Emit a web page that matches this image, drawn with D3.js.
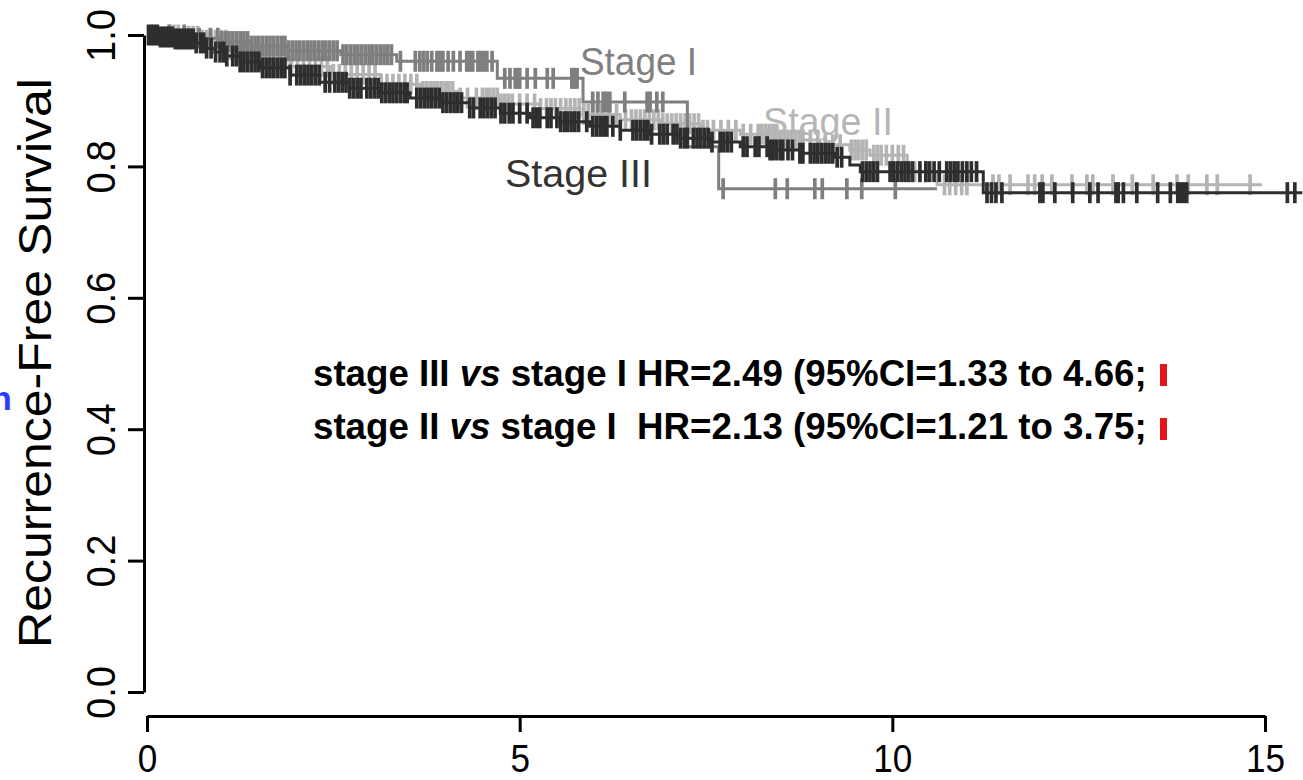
<!DOCTYPE html>
<html>
<head>
<meta charset="utf-8">
<script src="https://cdn.jsdelivr.net/npm/d3@7"></script>
<style>
  body { margin: 0; background: #fff; }
  text { font-family: "Liberation Sans", Arial, Helvetica, sans-serif; }
</style>
</head>
<body>
<div id="canvas"></div>
<script>
// Kaplan-Meier steps [years, survival]
const stage1Steps = [[0, 1], [0.55, 0.995], [1.0, 0.99], [1.4, 0.983], [1.9, 0.976], [2.6, 0.97],
  [3.35, 0.96], [4.7, 0.934], [5.85, 0.898], [7.25, 0.83], [7.67, 0.766]];
const stage1End = 10.6;
const stage1Censor = [0.3, 0.5, 0.7, 0.85, 0.95, 1.0, 1.05, 1.1, 1.15, 1.2, 1.25, 1.3, 1.35, 1.4, 1.45,
  1.5, 1.55, 1.6, 1.65, 1.7, 1.75, 1.8, 1.85, 1.9, 1.95, 2.0, 2.05, 2.1, 2.15, 2.2, 2.25, 2.3, 2.35,
  2.4, 2.45, 2.5, 2.55, 2.63, 2.68, 2.73, 2.78, 2.83, 2.88, 2.93, 2.98, 3.03, 3.08, 3.13, 3.18, 3.23,
  3.28, 3.4, 3.6, 3.66, 3.71, 3.76, 3.82, 3.89, 3.93, 3.97, 4.04, 4.11, 4.2, 4.29, 4.33, 4.37, 4.44,
  4.48, 4.52, 4.56, 4.63, 4.8, 4.87, 4.94, 4.97, 5.0, 5.1, 5.21, 5.37, 5.45, 5.7, 5.73, 5.77, 5.98,
  6.05, 6.12, 6.16, 6.21, 6.41, 6.71, 6.75, 6.84, 6.92, 7.73, 8.43, 8.59, 8.96, 9.06, 9.39, 9.59, 10.04];

const stage2Steps = [[0, 1], [0.44, 0.998], [0.71, 0.992], [1.11, 0.978], [1.52, 0.963], [1.92, 0.952],
  [2.46, 0.94], [3.13, 0.925], [3.66, 0.914], [4.2, 0.904], [4.74, 0.895], [5.27, 0.888], [5.81, 0.879],
  [6.35, 0.871], [6.88, 0.865], [7.42, 0.855], [7.96, 0.849], [8.49, 0.84], [9.03, 0.833], [9.43, 0.825],
  [9.7, 0.817], [10.2, 0.792], [10.6, 0.772]];
const stage2End = 14.96;
const stage2Censor = [0.3, 0.36, 0.42, 0.5, 0.56, 0.62, 0.68, 0.74, 0.8, 0.86, 0.92, 1.0, 1.06, 1.12,
  1.2, 1.28, 1.34, 1.4, 1.46, 1.52, 1.58, 1.64, 1.7, 1.78, 1.86, 1.94, 2.02, 2.1, 2.18, 2.26, 2.34, 2.42,
  2.5, 2.58, 2.66, 2.74, 2.82, 2.9, 2.98, 3.06, 3.14, 3.22, 3.3, 3.38, 3.46, 3.54, 3.62, 3.7, 3.75, 3.8,
  3.85, 3.9, 3.95, 4.0, 4.05, 4.1, 4.2, 4.3, 4.42, 4.5, 4.55, 4.6, 4.65, 4.7, 4.75, 4.8, 4.85, 4.9, 5.0,
  5.1, 5.2, 5.28, 5.36, 5.42, 5.48, 5.55, 5.62, 5.68, 5.74, 5.8, 5.86, 5.92, 5.98, 6.04, 6.1, 6.2, 6.3,
  6.42, 6.5, 6.56, 6.62, 6.68, 6.74, 6.8, 6.86, 6.92, 6.98, 7.04, 7.1, 7.16, 7.22, 7.28, 7.34, 7.4, 7.46,
  7.52, 7.6, 7.7, 7.8, 7.9, 8.0, 8.1, 8.2, 8.25, 8.3, 8.35, 8.4, 8.45, 8.5, 8.55, 8.6, 8.65, 8.7, 8.75,
  8.8, 8.9, 9.0, 9.1, 9.2, 9.3, 9.45, 9.5, 9.55, 9.6, 9.65, 9.75, 9.8, 9.85, 9.92, 10.0, 10.08, 10.15,
  10.3, 10.45, 10.7, 10.77, 10.85, 10.93, 11.0, 11.35, 11.43, 11.58, 11.82, 11.91, 12.01, 12.14, 12.41,
  12.61, 12.69, 12.96, 13.22, 13.5, 13.82, 13.97, 14.22, 14.36, 14.8];

const stage3Steps = [[0, 1], [0.17, 0.997], [0.38, 0.994], [0.64, 0.988], [0.78, 0.98], [0.91, 0.974],
  [1.05, 0.968], [1.25, 0.959], [1.52, 0.95], [1.92, 0.939], [2.32, 0.928], [2.72, 0.919], [3.13, 0.912],
  [3.53, 0.904], [3.93, 0.897], [4.33, 0.889], [4.74, 0.881], [5.14, 0.874], [5.54, 0.868], [5.94, 0.861],
  [6.35, 0.855], [6.75, 0.849], [7.15, 0.843], [7.55, 0.837], [7.96, 0.83], [8.36, 0.825], [8.76, 0.82],
  [9.23, 0.814], [9.43, 0.802], [9.57, 0.792], [11.22, 0.76]];
const stage3End = 15.5;
const stage3Censor = [0.02, 0.06, 0.1, 0.14, 0.18, 0.22, 0.26, 0.3, 0.34, 0.38, 0.42, 0.46, 0.5, 0.54,
  0.58, 0.62, 0.66, 0.72, 0.76, 0.8, 0.86, 0.92, 0.98, 1.03, 1.07, 1.15, 1.2, 1.25, 1.3, 1.35, 1.4, 1.45,
  1.5, 1.55, 1.6, 1.65, 1.7, 1.75, 1.8, 1.85, 1.92, 2.01, 2.06, 2.11, 2.16, 2.21, 2.26, 2.31, 2.39, 2.45,
  2.52, 2.57, 2.62, 2.67, 2.72, 2.77, 2.82, 2.87, 2.95, 3.0, 3.05, 3.1, 3.15, 3.2, 3.25, 3.3, 3.35, 3.4,
  3.45, 3.49, 3.62, 3.67, 3.72, 3.77, 3.82, 3.87, 3.92, 3.97, 4.02, 4.07, 4.12, 4.17, 4.22, 4.33, 4.38,
  4.47, 4.52, 4.57, 4.62, 4.67, 4.75, 4.8, 4.86, 4.91, 5.0, 5.1, 5.18, 5.23, 5.27, 5.37, 5.42, 5.5, 5.55,
  5.6, 5.64, 5.69, 5.74, 5.79, 5.9, 5.98, 6.03, 6.08, 6.13, 6.17, 6.25, 6.35, 6.52, 6.57, 6.62, 6.67,
  6.72, 6.77, 6.88, 6.93, 6.98, 7.06, 7.11, 7.16, 7.21, 7.25, 7.33, 7.38, 7.43, 7.48, 7.53, 7.58, 7.69,
  7.74, 7.79, 7.84, 8.0, 8.05, 8.16, 8.21, 8.32, 8.36, 8.4, 8.45, 8.5, 8.53, 8.6, 8.66, 8.76, 8.8, 8.9,
  8.95, 9.0, 9.05, 9.1, 9.15, 9.2, 9.26, 9.32, 9.6, 9.65, 9.7, 9.75, 9.8, 9.97, 10.02, 10.07, 10.12,
  10.17, 10.22, 10.27, 10.37, 10.45, 10.5, 10.56, 10.63, 10.73, 10.78, 10.83, 10.88, 10.94, 11.0, 11.06,
  11.13, 11.27, 11.33, 11.39, 11.47, 11.98, 12.02, 12.18, 12.42, 12.65, 12.76, 13.0, 13.03, 13.1, 13.28,
  13.56, 13.73, 13.83, 13.87, 13.91, 13.95, 15.3, 15.4];

const xTicks = [0, 5, 10, 15];
const yTicks = [0, 0.2, 0.4, 0.6, 0.8, 1.0];
const stageLabels = ["Stage I", "Stage II", "Stage III"];
const hrLine1 = ["stage III ", "vs", " stage I HR=2.49 (95%CI=1.33 to 4.66;"];
const hrLine2 = ["stage II ", "vs", " stage I  HR=2.13 (95%CI=1.21 to 3.75;"];

const width = 1303;
const height = 780;

const svg = d3.select("#canvas").append("svg").attr("width", width).attr("height", height);

const x = d3.scaleLinear().domain([0, 15]).range([147, 1265]);
const y = d3.scaleLinear().domain([0, 1]).range([692, 35]);

// squeeze a text horizontally so it covers the given length
function fit(sel, len, tx, ty, rot) {
  const w = sel.node().getComputedTextLength();
  sel.attr("transform", `translate(${tx},${ty}) rotate(${rot || 0}) scale(${len / w},1)`);
}

const stepLine = d3.line().x((d) => x(d[0])).y((d) => y(d[1])).curve(d3.curveStepAfter);
const bis = d3.bisector((d) => d[0]).right;

function drawStage(steps, end, censor, color) {
  const pts = steps.concat([[end, steps[steps.length - 1][1]]]);
  const g = svg.append("g");
  g.append("path")
    .attr("d", stepLine(pts))
    .attr("fill", "none")
    .attr("stroke", color)
    .attr("stroke-width", 3);
  g.selectAll("line")
    .data(censor)
    .enter()
    .append("line")
    .attr("x1", (d) => x(d))
    .attr("x2", (d) => x(d))
    .attr("y1", (d) => y(steps[bis(steps, d) - 1][1]) - 10.5)
    .attr("y2", (d) => y(steps[bis(steps, d) - 1][1]) + 10.5)
    .attr("stroke", color)
    .attr("stroke-width", 3.7);
}

drawStage(stage2Steps, stage2End, stage2Censor, "#b4b4b4");
drawStage(stage1Steps, stage1End, stage1Censor, "#7f7f7f");
drawStage(stage3Steps, stage3End, stage3Censor, "#2e2e2e");

// axes, R style
const xAxis = svg.append("g")
  .attr("transform", "translate(0,716)")
  .call(d3.axisBottom(x).tickValues(xTicks).tickSize(16).tickSizeOuter(0).tickFormat(d3.format("d")));
const yAxis = svg.append("g")
  .attr("transform", "translate(144,0)")
  .call(d3.axisLeft(y).tickValues(yTicks).tickSize(16).tickSizeOuter(0).tickFormat(d3.format(".1f")));

svg.selectAll(".domain, .tick line").attr("stroke", "#000").attr("stroke-width", 3);
svg.selectAll(".tick text").attr("fill", "#000").attr("font-family", null);

xAxis.selectAll(".tick text")
  .attr("font-size", 39)
  .attr("y", 0)
  .attr("dy", null)
  .attr("text-anchor", "middle")
  .each(function () {
    fit(d3.select(this), this.getComputedTextLength() * 0.9, 0, 56);
  });

yAxis.selectAll(".tick text")
  .attr("font-size", 41)
  .attr("x", 0)
  .attr("dy", null)
  .attr("text-anchor", "middle")
  .each(function () {
    fit(d3.select(this), 53, -29, 0, -90);
  });

const yLab = svg.append("text")
  .attr("text-anchor", "middle")
  .attr("font-size", 46)
  .text("Recurrence-Free Survival");
fit(yLab, 570, 51, 363, -90);

// curve labels
const labelPos = [
  { x: 580, y: 75, len: 117, color: "#808080" },
  { x: 763, y: 135, len: 130, color: "#b6b6b6" },
  { x: 505, y: 187, len: 147, color: "#333333" },
];
stageLabels.forEach((s, i) => {
  const t = svg.append("text").attr("font-size", 38).attr("fill", labelPos[i].color).text(s);
  fit(t, labelPos[i].len, labelPos[i].x, labelPos[i].y);
});

// hazard ratio notes
[hrLine1, hrLine2].forEach((parts, i) => {
  const t = svg.append("text")
    .attr("font-size", 37)
    .attr("font-weight", "bold")
    .style("white-space", "pre");
  parts.forEach((p, j) => {
    t.append("tspan").attr("font-style", j === 1 ? "italic" : "normal").text(p);
  });
  fit(t, 834, 313, i === 0 ? 386 : 439);
  svg.append("rect")
    .attr("x", 1160)
    .attr("y", i === 0 ? 364 : 418)
    .attr("width", 7)
    .attr("height", 22)
    .attr("fill", "#e8141c");
});

// blue letter cut by the left edge, as in the source figure
svg.append("text")
  .attr("x", -9)
  .attr("y", 410)
  .attr("font-size", 34)
  .attr("font-weight", "bold")
  .attr("fill", "#2a3cff")
  .text("n");
</script>
</body>
</html>
